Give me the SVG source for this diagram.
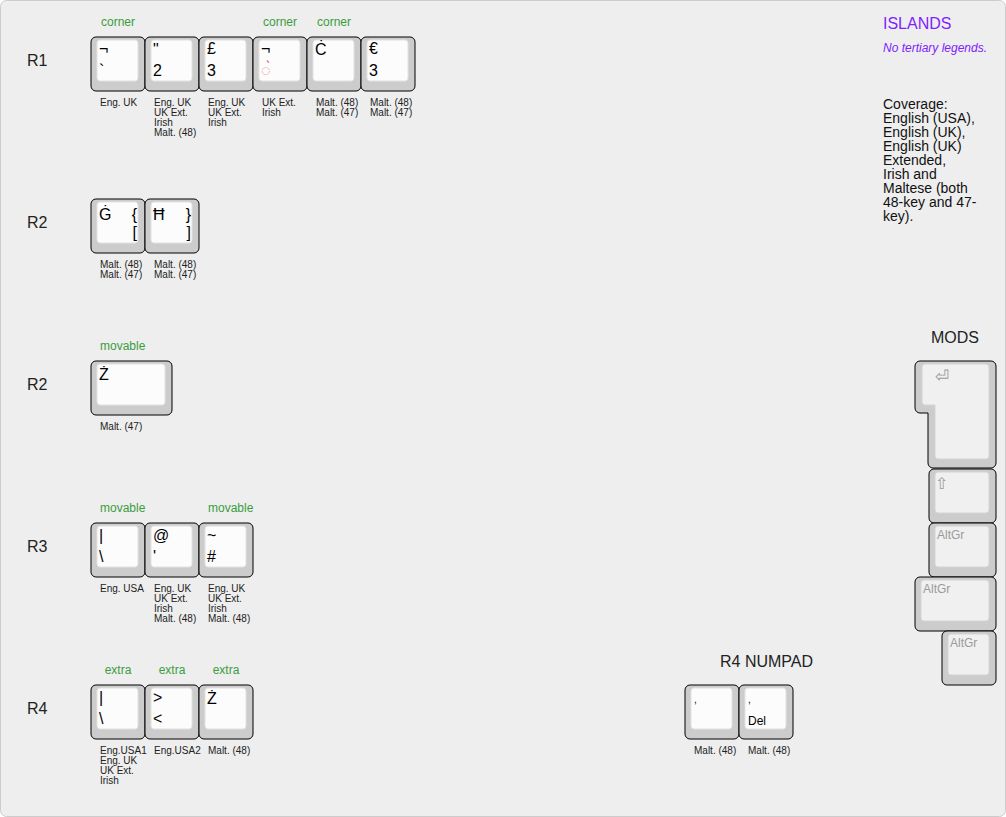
<svg xmlns="http://www.w3.org/2000/svg" width="1006" height="817" viewBox="0 0 1006 817">
<style>
.bg{fill:#eeeeee;stroke:#cccccc;stroke-width:1}
.ko{fill:#cccccc;stroke:#000000;stroke-width:1}
.ki{fill:#fcfcfc;stroke:#e2e2e2;stroke-width:1}
.mi{fill:#f0f0f0;stroke:#d4d4d4;stroke-width:1}
text{font-family:"Liberation Sans",Arial,sans-serif}
.lg{font-size:16px;fill:#000}
.lgr{font-size:16px;fill:#000;text-anchor:end}
.ml{font-size:12px;fill:#9a9a9a}
.sm{font-size:10px;fill:#222}
.hd{font-size:12px;fill:#3a9d3e}
.hdc{font-size:12px;fill:#3a9d3e;text-anchor:middle}
.row{font-size:16px;fill:#222}
.ttl{font-size:16px;fill:#222}
</style>
<rect class="bg" x="0.5" y="0.5" width="1005" height="816" rx="6"/>

<g id="row-labels">
<text class="row" x="27" y="66">R1</text>
<text class="row" x="27" y="228">R2</text>
<text class="row" x="27" y="390">R2</text>
<text class="row" x="27" y="552">R3</text>
<text class="row" x="27" y="714">R4</text>
</g>

<g id="headers">
<text class="hdc" x="118" y="26">corner</text>
<text class="hdc" x="280" y="26">corner</text>
<text class="hdc" x="334" y="26">corner</text>
<text class="hd" x="100" y="350">movable</text>
<text class="hd" x="100" y="512">movable</text>
<text class="hd" x="208" y="512">movable</text>
<text class="hdc" x="118" y="674">extra</text>
<text class="hdc" x="172" y="674">extra</text>
<text class="hdc" x="226" y="674">extra</text>
</g>

<g id="islands">
<text x="883" y="29" style="font-size:16px;fill:#7f22ff">ISLANDS</text>
<text x="883" y="52" style="font-size:12px;fill:#7f22ff;font-style:italic">No tertiary legends.</text>
<text style="font-size:14px;fill:#111">
<tspan x="883" y="109">Coverage:</tspan>
<tspan x="883" y="123">English (USA),</tspan>
<tspan x="883" y="137">English (UK),</tspan>
<tspan x="883" y="151">English (UK)</tspan>
<tspan x="883" y="165">Extended,</tspan>
<tspan x="883" y="179">Irish and</tspan>
<tspan x="883" y="193">Maltese (both</tspan>
<tspan x="883" y="207">48-key and 47-</tspan>
<tspan x="883" y="221">key).</tspan>
</text>
</g>

<g id="connectors"></g>

<!-- R1 -->
<g id="r1-k1">
<rect class="ko" x="91" y="37" width="54" height="54" rx="5"/>
<rect class="ki" x="97" y="40" width="41" height="41" rx="3"/>
<text class="lg" x="99" y="54">¬</text>
<text class="lg" x="99" y="76">`</text>
<text class="sm"><tspan x="100" y="106">Eng. UK</tspan></text>
</g>
<g id="r1-k2">
<rect class="ko" x="145" y="37" width="54" height="54" rx="5"/>
<rect class="ki" x="151" y="40" width="41" height="41" rx="3"/>
<text class="lg" x="153" y="55">"</text>
<text class="lg" x="153" y="76">2</text>
<text class="sm"><tspan x="154" y="106">Eng. UK</tspan><tspan x="154" y="116">UK Ext.</tspan><tspan x="154" y="126">Irish</tspan><tspan x="154" y="136">Malt. (48)</tspan></text>
</g>
<g id="r1-k3">
<rect class="ko" x="199" y="37" width="54" height="54" rx="5"/>
<rect class="ki" x="205" y="40" width="41" height="41" rx="3"/>
<text class="lg" x="207" y="54">£</text>
<text class="lg" x="207" y="76">3</text>
<text class="sm"><tspan x="208" y="106">Eng. UK</tspan><tspan x="208" y="116">UK Ext.</tspan><tspan x="208" y="126">Irish</tspan></text>
</g>
<g id="r1-k4">
<rect class="ko" x="253" y="37" width="54" height="54" rx="5"/>
<rect class="ki" x="259" y="40" width="41" height="41" rx="3"/>
<text class="lg" x="261" y="54">¬</text>
<text class="lg" x="261" y="76" style="fill:#e8606a">◌̀</text>
<text class="sm"><tspan x="262" y="106">UK Ext.</tspan><tspan x="262" y="116">Irish</tspan></text>
</g>
<g id="r1-k5">
<rect class="ko" x="307" y="37" width="54" height="54" rx="5"/>
<rect class="ki" x="313" y="40" width="41" height="41" rx="3"/>
<text class="lg" x="315" y="55">Ċ</text>
<text class="sm"><tspan x="316" y="106">Malt. (48)</tspan><tspan x="316" y="116">Malt. (47)</tspan></text>
</g>
<g id="r1-k6">
<rect class="ko" x="361" y="37" width="54" height="54" rx="5"/>
<rect class="ki" x="367" y="40" width="41" height="41" rx="3"/>
<text class="lg" x="369" y="54">€</text>
<text class="lg" x="369" y="76">3</text>
<text class="sm"><tspan x="370" y="106">Malt. (48)</tspan><tspan x="370" y="116">Malt. (47)</tspan></text>
</g>

<!-- R2 -->
<g id="r2-k1">
<rect class="ko" x="91" y="199" width="54" height="54" rx="5"/>
<rect class="ki" x="97" y="202" width="41" height="41" rx="3"/>
<text class="lg" x="99" y="220">Ġ</text>
<text class="lgr" x="137" y="220">{</text>
<text class="lgr" x="137" y="238">[</text>
<text class="sm"><tspan x="100" y="268">Malt. (48)</tspan><tspan x="100" y="278">Malt. (47)</tspan></text>
</g>
<g id="r2-k2">
<rect class="ko" x="145" y="199" width="54" height="54" rx="5"/>
<rect class="ki" x="151" y="202" width="41" height="41" rx="3"/>
<text class="lg" x="153" y="220">Ħ</text>
<text class="lgr" x="191" y="220">}</text>
<text class="lgr" x="191" y="238">]</text>
<text class="sm"><tspan x="154" y="268">Malt. (48)</tspan><tspan x="154" y="278">Malt. (47)</tspan></text>
</g>

<!-- R2 movable -->
<g id="r2b-k1">
<rect class="ko" x="91" y="361" width="81" height="54" rx="5"/>
<rect class="ki" x="97" y="364" width="68" height="41" rx="3"/>
<text class="lg" x="99" y="380">Ż</text>
<text class="sm"><tspan x="100" y="430">Malt. (47)</tspan></text>
</g>

<!-- R3 -->
<g id="r3-k1">
<rect class="ko" x="91" y="523" width="54" height="54" rx="5"/>
<rect class="ki" x="97" y="526" width="41" height="41" rx="3"/>
<text class="lg" x="99" y="541">|</text>
<text class="lg" x="99" y="562">\</text>
<text class="sm"><tspan x="100" y="592">Eng. USA</tspan></text>
</g>
<g id="r3-k2">
<rect class="ko" x="145" y="523" width="54" height="54" rx="5"/>
<rect class="ki" x="151" y="526" width="41" height="41" rx="3"/>
<text class="lg" x="153" y="541">@</text>
<text class="lg" x="153" y="562">'</text>
<text class="sm"><tspan x="154" y="592">Eng. UK</tspan><tspan x="154" y="602">UK Ext.</tspan><tspan x="154" y="612">Irish</tspan><tspan x="154" y="622">Malt. (48)</tspan></text>
</g>
<g id="r3-k3">
<rect class="ko" x="199" y="523" width="54" height="54" rx="5"/>
<rect class="ki" x="205" y="526" width="41" height="41" rx="3"/>
<text class="lg" x="207" y="541">~</text>
<text class="lg" x="207" y="562">#</text>
<text class="sm"><tspan x="208" y="592">Eng. UK</tspan><tspan x="208" y="602">UK Ext.</tspan><tspan x="208" y="612">Irish</tspan><tspan x="208" y="622">Malt. (48)</tspan></text>
</g>

<!-- R4 -->
<g id="r4-k1">
<rect class="ko" x="91" y="685" width="54" height="54" rx="5"/>
<rect class="ki" x="97" y="688" width="41" height="41" rx="3"/>
<text class="lg" x="99" y="703">|</text>
<text class="lg" x="99" y="724">\</text>
<text class="sm"><tspan x="100" y="754">Eng.USA1</tspan><tspan x="100" y="764">Eng. UK</tspan><tspan x="100" y="774">UK Ext.</tspan><tspan x="100" y="784">Irish</tspan></text>
</g>
<g id="r4-k2">
<rect class="ko" x="145" y="685" width="54" height="54" rx="5"/>
<rect class="ki" x="151" y="688" width="41" height="41" rx="3"/>
<text class="lg" x="153" y="703">&gt;</text>
<text class="lg" x="153" y="724">&lt;</text>
<text class="sm"><tspan x="154" y="754">Eng.USA2</tspan></text>
</g>
<g id="r4-k3">
<rect class="ko" x="199" y="685" width="54" height="54" rx="5"/>
<rect class="ki" x="205" y="688" width="41" height="41" rx="3"/>
<text class="lg" x="207" y="704">Ż</text>
<text class="sm"><tspan x="208" y="754">Malt. (48)</tspan></text>
</g>

<!-- Numpad -->
<g id="numpad-title">
<text class="ttl" x="720" y="667">R4 NUMPAD</text>
</g>
<g id="np-k1">
<rect class="ko" x="685" y="685" width="54" height="54" rx="5"/>
<rect class="ki" x="691" y="688" width="41" height="41" rx="3"/>
<text x="694" y="703" style="font-size:10px;fill:#000">,</text>
<text class="sm"><tspan x="694" y="754">Malt. (48)</tspan></text>
</g>
<g id="np-k2">
<rect class="ko" x="739" y="685" width="54" height="54" rx="5"/>
<rect class="ki" x="745" y="688" width="41" height="41" rx="3"/>
<text x="748" y="703" style="font-size:10px;fill:#000">,</text>
<text x="748" y="725" style="font-size:12px;fill:#000">Del</text>
<text class="sm"><tspan x="748" y="754">Malt. (48)</tspan></text>
</g>

<!-- Mods -->
<g id="mods-title">
<text class="ttl" x="955" y="343" text-anchor="middle">MODS</text>
</g>
<g id="mod-enter">
<path class="ko" d="M920,361 H991 A5,5 0 0 1 996,366 V463 A5,5 0 0 1 991,468 H933 A5,5 0 0 1 928,463 V413 H920 A5,5 0 0 1 915,408 V366 A5,5 0 0 1 920,361 Z"/>
<path class="mi" d="M925,364 H986 A3,3 0 0 1 989,367 V456 A3,3 0 0 1 986,459 H938 A3,3 0 0 1 935,456 V405 H925 A3,3 0 0 1 922,402 V367 A3,3 0 0 1 925,364 Z"/>
<text class="ml" x="935" y="382" style="font-size:17px">⏎</text>
</g>
<g id="mod-shift">
<rect class="ko" x="929" y="469" width="67" height="54" rx="5"/>
<rect class="mi" x="935" y="472" width="54" height="41" rx="3"/>
<text class="ml" x="935" y="489" style="font-size:16px">⇧</text>
</g>
<g id="mod-altgr1">
<rect class="ko" x="929" y="523" width="67" height="54" rx="5"/>
<rect class="mi" x="935" y="526" width="54" height="41" rx="3"/>
<text class="ml" x="937" y="539">AltGr</text>
</g>
<g id="mod-altgr2">
<rect class="ko" x="915" y="577" width="81" height="54" rx="5"/>
<rect class="mi" x="921" y="580" width="68" height="41" rx="3"/>
<text class="ml" x="923" y="593">AltGr</text>
</g>
<g id="mod-altgr3">
<rect class="ko" x="942" y="631" width="54" height="54" rx="5"/>
<rect class="mi" x="948" y="634" width="41" height="41" rx="3"/>
<text class="ml" x="950" y="647">AltGr</text>
</g>
</svg>
